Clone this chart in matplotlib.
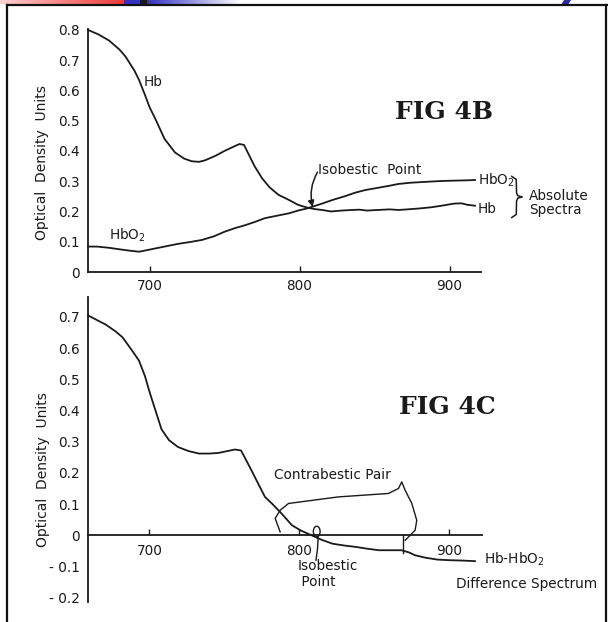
import numpy as np
import matplotlib
matplotlib.use('Agg')
import matplotlib.pyplot as plt
from matplotlib.lines import Line2D
from matplotlib.patches import Ellipse, Polygon

# --- data (wavelength nm, optical density) ---
hb_wl = [659, 666, 673, 680, 684, 690, 693, 697, 700, 704, 710, 717, 723, 728, 733,
         737, 744, 750, 756, 760, 763, 766, 770, 775, 780, 786, 793, 799, 805, 810,
         815, 821, 828, 835, 840, 845, 852, 860, 866, 872, 880, 888, 896, 903, 908,
         912, 917]
hb_od = [0.800, 0.785, 0.765, 0.735, 0.712, 0.665, 0.635, 0.585, 0.545, 0.505, 0.440,
         0.395, 0.375, 0.366, 0.364, 0.369, 0.384, 0.400, 0.414, 0.423, 0.420, 0.390,
         0.350, 0.310, 0.280, 0.255, 0.238, 0.222, 0.213, 0.208, 0.205, 0.200, 0.203,
         0.205, 0.206, 0.203, 0.205, 0.207, 0.205, 0.207, 0.210, 0.214, 0.220, 0.226,
         0.227, 0.222, 0.219]

hbo2_wl = [659, 665, 673, 680, 686, 693, 698, 704, 712, 719, 727, 735, 743, 750, 757,
           764, 770, 777, 785, 793, 799, 805, 810, 815, 822, 830, 837, 844, 852, 860,
           866, 874, 881, 888, 896, 904, 912, 917]
hbo2_od = [0.084, 0.084, 0.080, 0.075, 0.071, 0.067, 0.072, 0.078, 0.086, 0.093, 0.099,
           0.106, 0.118, 0.133, 0.145, 0.155, 0.165, 0.178, 0.186, 0.194, 0.203, 0.210,
           0.218, 0.226, 0.238, 0.250, 0.262, 0.271, 0.278, 0.285, 0.291, 0.295, 0.297,
           0.299, 0.301, 0.302, 0.303, 0.304]

diff_wl = [659, 665, 671, 677, 682, 688, 693, 697, 700, 704, 708, 713, 719, 726, 733,
           740, 746, 752, 757, 761, 764, 768, 772, 777, 782, 788, 795, 801, 808, 815,
           822, 830, 837, 845, 853, 860, 868, 873, 877, 884, 892, 900, 908, 917]
diff_od = [0.705, 0.690, 0.675, 0.655, 0.635, 0.595, 0.560, 0.510, 0.460, 0.400, 0.340,
           0.305, 0.283, 0.270, 0.262, 0.262, 0.264, 0.270, 0.275, 0.272, 0.245, 0.208,
           0.170, 0.123, 0.100, 0.070, 0.032, 0.015, 0.000, -0.015, -0.027, -0.033,
           -0.037, -0.043, -0.048, -0.048, -0.048, -0.055, -0.064, -0.072, -0.078,
           -0.080, -0.081, -0.083]

x_ticks = [700, 800, 900]
x_labels = ['700', '800', '900']
top_yticks = [0, 0.1, 0.2, 0.3, 0.4, 0.5, 0.6, 0.7, 0.8]
top_ylabels = ['0', '0.1', '0.2', '0.3', '0.4', '0.5', '0.6', '0.7', '0.8']
bot_yticks = [-0.2, -0.1, 0, 0.1, 0.2, 0.3, 0.4, 0.5, 0.6, 0.7]
bot_ylabels = ['- 0.2', '- 0.1', '0', '0.1', '0.2', '0.3', '0.4', '0.5', '0.6', '0.7']

W, H = 608, 622
INK = '#1a1a1a'
FS = 9.8
plt.rcParams['font.family'] = ['DejaVu Sans']
fig = plt.figure(figsize=(W / 100, H / 100), dpi=100)
fig.patch.set_facecolor('white')


def fx(x):
    return x / W


def fy(y):
    return 1 - y / H


def style_axes(ax, yticks, ylabels):
    for s in ['top', 'right']:
        ax.spines[s].set_visible(False)
    for s in ['left', 'bottom']:
        ax.spines[s].set_linewidth(1.3)
        ax.spines[s].set_color(INK)
    ax.set_facecolor('none')
    ax.set_xticks(x_ticks)
    ax.set_xticklabels(x_labels)
    ax.set_yticks(yticks)
    ax.set_yticklabels(ylabels)
    ax.tick_params(axis='x', direction='in', length=4, width=1, color=INK,
                   pad=5, labelsize=FS, labelcolor=INK)
    ax.tick_params(axis='y', length=0, pad=6, labelsize=FS, labelcolor=INK)


# ---------------- FIG 4B ----------------
ax1 = fig.add_axes([fx(88), fy(272), (481 - 88) / W, (272 - 29) / H])
ax1.set_xlim(659, 921)
ax1.set_ylim(0, 0.803)
style_axes(ax1, top_yticks, top_ylabels)
ax1.plot(hb_wl, hb_od, color=INK, lw=1.3, clip_on=False)
ax1.plot(hbo2_wl, hbo2_od, color=INK, lw=1.3, clip_on=False)

ax1.text(696, 0.628, 'Hb', fontsize=FS, color=INK, va='center')
ax1.text(673, 0.122, 'HbO$_2$', fontsize=FS, color=INK, va='center')
ax1.text(919, 0.304, 'HbO$_2$', fontsize=FS, color=INK, va='center', clip_on=False)
ax1.text(919, 0.208, 'Hb', fontsize=FS, color=INK, va='center', clip_on=False)

# curly brace grouping the two spectra
brace_x = [941.5, 944.5, 944.7, 945.5, 948.5, 945.5, 944.7, 944.5, 941.5]
brace_y = [0.316, 0.306, 0.262, 0.252, 0.248, 0.244, 0.234, 0.190, 0.180]
ax1.plot(brace_x, brace_y, color=INK, lw=1.1, clip_on=False)
ax1.text(953, 0.228, 'Absolute\nSpectra', fontsize=FS, color=INK, va='center',
         ha='left', linespacing=1.0, clip_on=False)

ax1.text(812.5, 0.337, 'Isobestic  Point', fontsize=FS, color=INK,
         va='center', ha='left')
ax1.annotate('', xy=(808.8, 0.215), xytext=(812.0, 0.330),
             arrowprops=dict(arrowstyle='-|>', color=INK, lw=1.1,
                             shrinkA=0, shrinkB=0, mutation_scale=9,
                             connectionstyle='arc3,rad=0.2'))
ax1.text(896, 0.529, 'FIG 4B', fontsize=18, fontweight='bold',
         family='DejaVu Serif', color=INK, ha='center', va='center')

# ---------------- FIG 4C ----------------
ax2 = fig.add_axes([fx(88), fy(602), (482 - 88) / W, (602 - 297) / H])
ax2.set_xlim(659, 921.7)
ax2.set_ylim(-0.214, 0.764)
style_axes(ax2, bot_yticks, bot_ylabels)
ax2.spines['bottom'].set_position(('data', 0))
ax2.tick_params(axis='x', pad=6)
ax2.plot(diff_wl, diff_od, color=INK, lw=1.3, clip_on=False)

ax2.text(898.7, 0.41, 'FIG 4C', fontsize=18, fontweight='bold',
         family='DejaVu Serif', color=INK, ha='center', va='center')
ax2.text(822, 0.192, 'Contrabestic Pair', fontsize=FS, color=INK,
         ha='center', va='center')

# hand-drawn bracket joining the contrabestic pair
br_x = [787.1, 783.8, 787.1, 792.7, 826, 859.3, 866, 868.2, 870.5, 874.9, 878.2,
        877.1, 870.5]
br_y = [0.011, 0.054, 0.080, 0.102, 0.123, 0.134, 0.150, 0.171, 0.144, 0.102,
        0.048, 0.016, -0.016]
ax2.plot(br_x, br_y, color=INK, lw=1.0)
ax2.plot([869.3, 869.3], [0.0, -0.058], color=INK, lw=1.0)

# isobestic loop and leader
ax2.add_patch(Ellipse((811.5, 0.012), 4.5, 0.034, fill=False, ec=INK, lw=1.0))
ax2.plot([812.5, 812.0, 811.0], [-0.005, -0.045, -0.08], color=INK, lw=1.0)
ax2.text(798.5, -0.125, 'Isobestic\n Point', fontsize=FS, color=INK,
         ha='left', va='center', linespacing=1.15)

ax2.text(923, -0.077, 'Hb-HbO$_2$', fontsize=FS, color=INK, ha='left',
         va='center', clip_on=False)
ax2.text(904.5, -0.155, 'Difference Spectrum', fontsize=FS, color=INK,
         ha='left', va='center', clip_on=False)

# y axis titles
fig.text(fx(42), fy(163), 'Optical  Density  Units', rotation=90, fontsize=10,
         color=INK, ha='center', va='center')
fig.text(fx(43), fy(470), 'Optical  Density  Units', rotation=90, fontsize=10,
         color=INK, ha='center', va='center')

# ---------------- slide frame decorations ----------------
frame_kw = dict(transform=fig.transFigure, color='#111111', lw=1.6)
fig.add_artist(Line2D([fx(7), fx(7)], [fy(5), 0], **frame_kw))
fig.add_artist(Line2D([fx(7), fx(607)], [fy(5), fy(5)], **frame_kw))
fig.add_artist(Line2D([fx(606), fx(606)], [fy(5), 0], **frame_kw))

n = 240
bar = np.ones((1, n, 3))
for i in range(n):
    if i < 124:
        t = i / 124
        c0, c1 = np.array([1.0, 0.82, 0.82]), np.array([0.93, 0.22, 0.22])
        bar[0, i] = c0 + (c1 - c0) * t
    elif i < 140:
        bar[0, i] = [0.2, 0.2, 0.75]
    elif i < 147:
        bar[0, i] = [0.1, 0.1, 0.1]
    else:
        t = (i - 147) / (n - 147)
        c0, c1 = np.array([0.2, 0.2, 0.75]), np.array([1.0, 1.0, 1.0])
        bar[0, i] = c0 + (c1 - c0) * t
bar_ax = fig.add_axes([0, fy(4), n / W, 4 / H])
bar_ax.imshow(bar, aspect='auto', interpolation='bilinear')
bar_ax.axis('off')

fig.add_artist(Polygon([(fx(564), fy(0)), (fx(571), fy(0)), (fx(568), fy(5)),
                        (fx(561), fy(5))], closed=True, transform=fig.transFigure,
                       color='#2b2ba8', lw=0))

fig.savefig('out.png', dpi=100)
